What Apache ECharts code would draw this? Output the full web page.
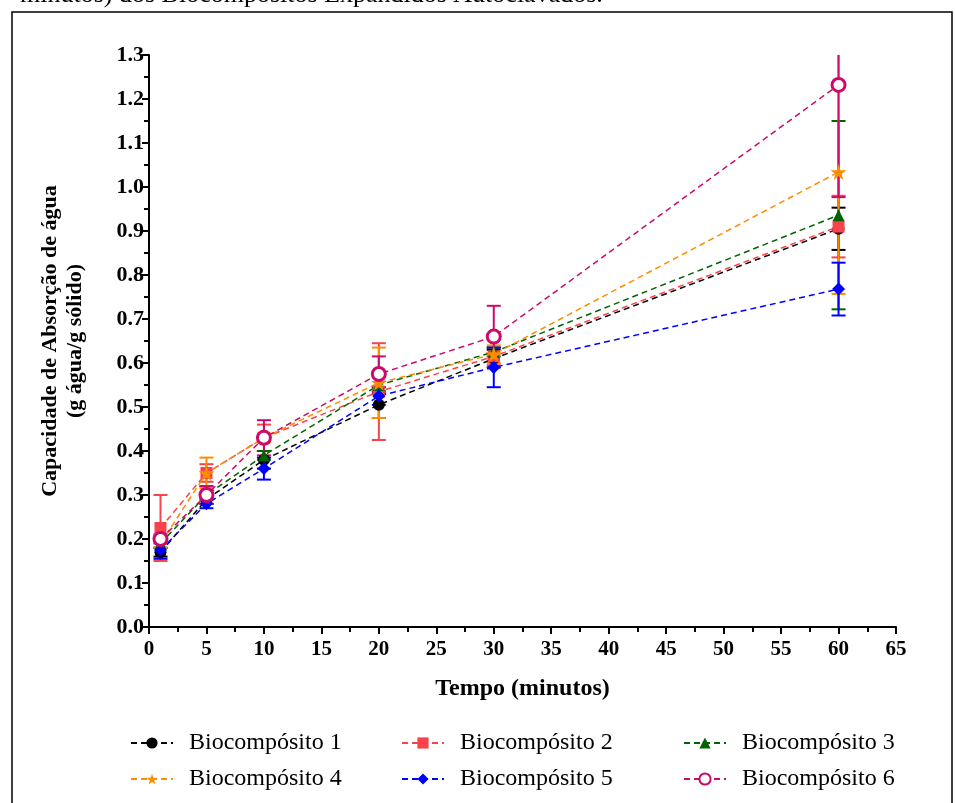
<!DOCTYPE html>
<html>
<head>
<meta charset="utf-8">
<script src="https://cdn.jsdelivr.net/npm/echarts@6/dist/echarts.min.js"></script>
<style>html,body{margin:0;padding:0;background:#fff;}#c{width:955px;height:803px;}</style>
</head>
<body>
<div id="c"></div>
<script>
const times = [1, 5, 10, 20, 30, 60];
const seriesNames = ['Biocompósito 1','Biocompósito 2','Biocompósito 3','Biocompósito 4','Biocompósito 5','Biocompósito 6'];
const b1 = [0.170, 0.290, 0.380, 0.505, 0.610, 0.905];
const b2 = [0.225, 0.350, 0.430, 0.535, 0.615, 0.910];
const b3 = [0.190, 0.300, 0.390, 0.550, 0.625, 0.936];
const b4 = [0.190, 0.350, 0.430, 0.555, 0.620, 1.034];
const b5 = [0.175, 0.280, 0.360, 0.525, 0.590, 0.768];
const b6 = [0.200, 0.300, 0.430, 0.575, 0.660, 1.232];
const e1 = [0.010, 0.010, 0.020, 0.030, 0.020, 0.048];
const e2 = [0.075, 0.020, 0.030, 0.110, 0.020, 0.070];
const e3 = [0.010, 0.020, 0.010, 0.020, 0.010, 0.214];
const e4 = [0.010, 0.035, 0.010, 0.080, 0.020, 0.277];
const e5 = [0.020, 0.010, 0.025, 0.020, 0.045, 0.060];
const e6 = [0.010, 0.020, 0.040, 0.040, 0.070, 0.255];
const xTicks = [0,5,10,15,20,25,30,35,40,45,50,55,60,65];
const yTicks = [0.0,0.1,0.2,0.3,0.4,0.5,0.6,0.7,0.8,0.9,1.0,1.1,1.2,1.3];

const values = [b1,b2,b3,b4,b5,b6];
const errs = [e1,e2,e3,e4,e5,e6];
const colors = ['#000000','#f8434c','#006400','#ff8c00','#0000ff','#cc0a6a'];
const symbols = ['circle','rect','triangle','path://M50,0 L61,35 L98,35 L68,57 L79,91 L50,70 L21,91 L32,57 L2,35 L39,35 Z','diamond','circle'];
const symSizes = [12, 12, 12, 16, 13, 13];
const FONT = '"Liberation Serif","Times New Roman",serif';

const chart = echarts.init(document.getElementById('c'));
const series = [];
values.forEach((v, i) => {
  series.push({
    name: 'err' + i,
    type: 'custom',
    clip: true,
    z: 2,
    data: times.map((t, k) => [t, v[k] - errs[i][k], v[k] + errs[i][k]]),
    renderItem: function (params, api) {
      const lo = api.coord([api.value(0), api.value(1)]);
      const hi = api.coord([api.value(0), api.value(2)]);
      const hw = 7;
      const st = { stroke: colors[i], lineWidth: 2 };
      return { type: 'group', children: [
        { type: 'line', shape: { x1: lo[0], y1: lo[1], x2: hi[0], y2: hi[1] }, style: st },
        { type: 'line', shape: { x1: lo[0]-hw, y1: lo[1], x2: lo[0]+hw, y2: lo[1] }, style: st },
        { type: 'line', shape: { x1: hi[0]-hw, y1: hi[1], x2: hi[0]+hw, y2: hi[1] }, style: st }
      ]};
    }
  });
});
values.forEach((v, i) => {
  series.push({
    name: seriesNames[i],
    type: 'line',
    z: 3,
    data: times.map((t, k) => [t, v[k]]),
    symbol: symbols[i],
    symbolSize: symSizes[i],
    showAllSymbol: true,
    color: colors[i],
    lineStyle: { color: colors[i], width: 1.5, type: [6, 4] },
    itemStyle: i === 5 ? { color: '#ffffff', borderColor: colors[i], borderWidth: 3 } : { color: colors[i] },
    animation: false
  });
});

function legendCol(names, left) {
  return {
    orient: 'vertical', left: left, top: 726, itemGap: 12, itemWidth: 42, itemHeight: 14,
    data: names,
    textStyle: { fontFamily: FONT, fontSize: 24, color: '#000', padding: [0,0,0,11] }
  };
}

chart.setOption({
  animation: false,
  backgroundColor: '#fff',
  grid: { left: 149, right: 59, top: 55, bottom: 176 },
  xAxis: {
    type: 'value', min: 0, max: 65, interval: 5,
    name: 'Tempo (minutos)', nameLocation: 'middle', nameGap: 50,
    nameTextStyle: { fontFamily: FONT, fontSize: 24, fontWeight: 'bold', color: '#000' },
    axisLine: { lineStyle: { color: '#000', width: 2 } },
    axisTick: { show: true, length: 7, lineStyle: { color: '#000', width: 2 } },
    minorTick: { show: true, splitNumber: 2, length: 5, lineStyle: { color: '#000', width: 2 } },
    axisLabel: { margin: 12, fontFamily: FONT, fontSize: 21, fontWeight: 'bold', color: '#000',
      formatter: v => xTicks.includes(v) ? String(v) : '' },
    splitLine: { show: false }
  },
  yAxis: {
    type: 'value', min: 0, max: 1.3, interval: 0.1,
    name: 'Capacidade de Absorção de água\n(g água/g sólido)', nameLocation: 'middle', nameGap: 61,
    nameTextStyle: { fontFamily: FONT, fontSize: 22, fontWeight: 'bold', color: '#000', lineHeight: 25 },
    axisLine: { show: true, lineStyle: { color: '#000', width: 2 } },
    axisTick: { show: true, length: 7, lineStyle: { color: '#000', width: 2 } },
    minorTick: { show: true, splitNumber: 2, length: 5, lineStyle: { color: '#000', width: 2 } },
    axisLabel: { margin: 5, fontFamily: FONT, fontSize: 22, fontWeight: 'bold', color: '#000',
      formatter: v => { const r = Math.round(v*10)/10; return yTicks.includes(r) ? r.toFixed(1) : ''; } },
    splitLine: { show: false }
  },
  legend: [
    legendCol([seriesNames[0], seriesNames[3]], 125),
    legendCol([seriesNames[1], seriesNames[4]], 396),
    legendCol([seriesNames[2], seriesNames[5]], 678)
  ],
  graphic: [
    { type: 'rect', shape: { x: 12, y: 12, width: 940, height: 800 }, style: { fill: null, stroke: '#000', lineWidth: 1.5 }, silent: true },
    { type: 'text', left: 20, top: -18, style: { text: 'minutos) dos Biocompósitos Expandidos Autoclavados.', font: '26px ' + FONT, fill: '#000' } }
  ],
  series: series
});
</script>
</body>
</html>
